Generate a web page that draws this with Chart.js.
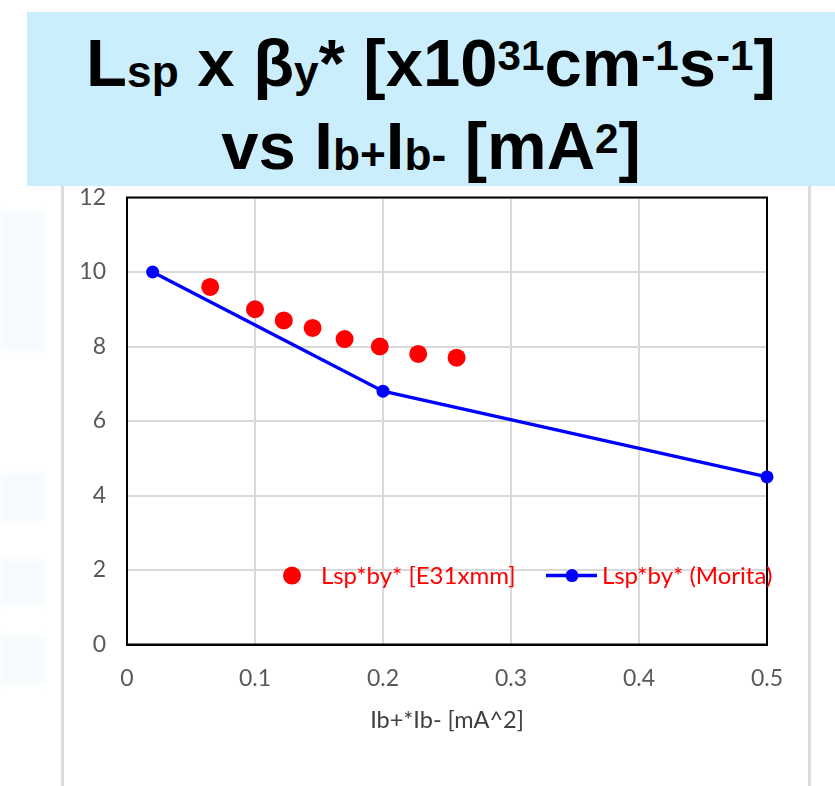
<!DOCTYPE html>
<html>
<head>
<meta charset="utf-8">
<script src="https://cdn.jsdelivr.net/npm/chart.js@4"></script>
<style>
  html, body { margin: 0; padding: 0; background: #ffffff; }
  body { width: 835px; height: 786px; position: relative; overflow: hidden; }
  .banner {
    position: absolute; left: 27px; top: 12px; width: 808px; height: 174px;
    background: #cbeefc;
  }
  .title {
    position: absolute; left: 27px; top: 12px; width: 808px; height: 174px;
    font-family: "Liberation Sans", Arial, sans-serif; font-weight: bold;
    color: #000; text-align: center; font-size: 67px; line-height: 83px;
    padding-top: 9px; box-sizing: border-box;
  }
  .title .line { white-space: nowrap; }
  .title sub { font-size: 0.66em; vertical-align: -0.03em; line-height: 0; }
  .title sup { font-size: 0.63em; vertical-align: 0.37em; line-height: 0; }
  .frame-line { position: absolute; top: 186px; width: 3px; height: 600px; background: #dcdcdc; }
  .haze { position: absolute; left: 0; width: 44px; background: rgba(205, 232, 245, 0.22); filter: blur(3px); }
  #wrap { position: absolute; left: 0; top: 186px; width: 835px; height: 600px; }
</style>
</head>
<body>
<div class="haze" style="top:212px;height:138px;"></div>
<div class="haze" style="top:474px;height:48px;"></div>
<div class="haze" style="top:560px;height:44px;"></div>
<div class="haze" style="top:637px;height:46px;"></div>
<div class="banner"></div>
<div class="title">
  <div class="line">L<sub>sp</sub> x β<sub>y</sub>* [x10<sup>31</sup>cm<sup>-1</sup>s<sup>-1</sup>]</div>
  <div class="line">vs I<sub>b+</sub>I<sub>b-</sub> [mA<sup>2</sup>]</div>
</div>
<div class="frame-line" style="left:61px;"></div>
<div class="frame-line" style="left:808px;"></div>
<div id="wrap"><canvas id="c" width="835" height="600"></canvas></div>
<script>
// Measured specific luminosity (E31 x mm) against bunch current product
const measuredX = [0.065, 0.1, 0.1225, 0.145, 0.17, 0.1975, 0.2275, 0.2575];
const measuredY = [9.6, 9.0, 8.7, 8.5, 8.2, 8.0, 7.8, 7.7];

// Morita's estimate
const moritaX = [0.02, 0.2, 0.5];
const moritaY = [10, 6.8, 4.5];

const seriesNames = ['Lsp*by* [E31xmm]', 'Lsp*by* (Morita)'];
const xTickLabels = ['0', '0.1', '0.2', '0.3', '0.4', '0.5'];
const yTickLabels = ['0', '2', '4', '6', '8', '10', '12'];
const xAxisTitle = 'Ib+*Ib- [mA^2]';

const FONT = 'Lato, "Open Sans", sans-serif';
const TEXT_GREY = '#595959';

const toPoints = (xs, ys) => xs.map((x, i) => ({ x, y: ys[i] }));

// Plot frame on top and right, matching the axis borders
const framePlugin = {
  id: 'frame',
  beforeDatasetsDraw(chart) {
    const { ctx, chartArea: a } = chart;
    ctx.save();
    ctx.strokeStyle = '#000';
    ctx.lineWidth = 2;
    ctx.strokeRect(a.left, a.top, a.right - a.left, a.bottom - a.top);
    ctx.restore();
  }
};

// Legend drawn inside the plot area, near the bottom
const innerLegend = {
  id: 'innerLegend',
  afterDatasetsDraw(chart) {
    const { ctx, chartArea: a, scales } = chart;
    const y = scales.y.getPixelForValue(1.85);
    const ds = chart.data.datasets;
    ctx.save();
    ctx.font = '24px ' + FONT;
    ctx.textBaseline = 'middle';
    // measured series: single dot
    ctx.beginPath();
    ctx.arc(a.left + 165, y, ds[0].pointRadius, 0, Math.PI * 2);
    ctx.fillStyle = ds[0].backgroundColor;
    ctx.fill();
    ctx.fillStyle = '#ff0000';
    ctx.fillText(seriesNames[0], a.left + 194, y + 1);
    // Morita series: line with marker
    ctx.strokeStyle = ds[1].borderColor;
    ctx.lineWidth = ds[1].borderWidth;
    ctx.beginPath();
    ctx.moveTo(a.left + 419, y);
    ctx.lineTo(a.left + 470, y);
    ctx.stroke();
    ctx.beginPath();
    ctx.arc(a.left + 445, y, ds[1].pointRadius, 0, Math.PI * 2);
    ctx.fillStyle = ds[1].backgroundColor;
    ctx.fill();
    ctx.fillStyle = '#ff0000';
    ctx.fillText(seriesNames[1], a.left + 475, y + 1);
    ctx.restore();
  }
};

new Chart(document.getElementById('c'), {
  type: 'scatter',
  data: {
    datasets: [
      {
        label: seriesNames[0],
        data: toPoints(measuredX, measuredY),
        showLine: false,
        pointRadius: 9,
        pointHoverRadius: 9,
        backgroundColor: '#ff0000',
        borderColor: '#ff0000',
        borderWidth: 0,
        clip: false,
        order: 1
      },
      {
        label: seriesNames[1],
        data: toPoints(moritaX, moritaY),
        showLine: true,
        borderColor: '#0000ff',
        backgroundColor: '#0000ff',
        borderWidth: 3.5,
        pointRadius: 6.5,
        pointHoverRadius: 6.5,
        pointBorderWidth: 0,
        tension: 0,
        clip: false,
        order: 2
      }
    ]
  },
  options: {
    responsive: false,
    animation: false,
    events: [],
    layout: { padding: { top: 11.5, right: 68, left: 0, bottom: 0 } },
    plugins: { legend: { display: false }, tooltip: { enabled: false } },
    scales: {
      x: {
        type: 'linear',
        min: 0, max: 0.5,
        afterFit(scale) {
          scale.height = 141.5;
          scale.paddingLeft = 0;
          scale.paddingRight = 0;
        },
        grid: { color: '#d9d9d9', lineWidth: 2, drawTicks: false },
        border: { display: true, color: '#000', width: 2 },
        ticks: {
          stepSize: 0.1,
          padding: 20,
          maxRotation: 0,
          color: TEXT_GREY,
          font: { family: FONT, size: 23 },
          callback: v => xTickLabels[Math.round(v * 10)]
        },
        title: {
          display: true,
          text: xAxisTitle,
          color: '#404040',
          font: { family: FONT, size: 23.5 },
          padding: { top: 0, bottom: 51 }
        }
      },
      y: {
        type: 'linear',
        min: 0, max: 12,
        afterFit(scale) {
          scale.width = 127;
          scale.paddingTop = 0;
          scale.paddingBottom = 0;
        },
        grid: { color: '#d9d9d9', lineWidth: 2, drawTicks: false },
        border: { display: true, color: '#000', width: 2 },
        ticks: {
          stepSize: 2,
          padding: 21,
          color: TEXT_GREY,
          font: { family: FONT, size: 23 },
          callback: v => yTickLabels[Math.round(v / 2)]
        }
      }
    }
  },
  plugins: [framePlugin, innerLegend]
});
</script>
</body>
</html>
